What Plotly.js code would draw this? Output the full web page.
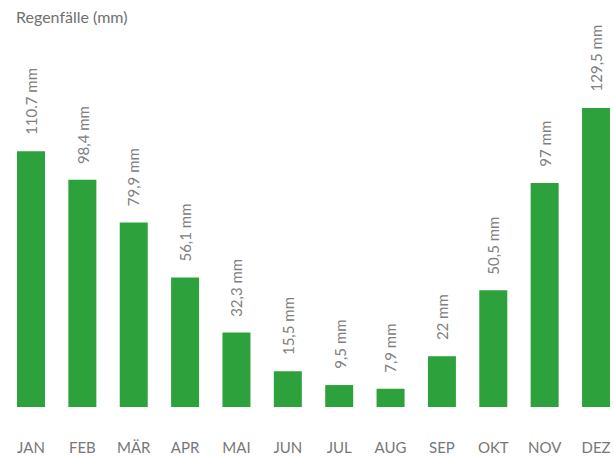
<!DOCTYPE html>
<html>
<head>
<meta charset="utf-8">
<script src="https://cdn.plot.ly/plotly-3.0.1.min.js"></script>
<style>html,body{margin:0;padding:0;background:#fff;}#chart{width:614px;height:457px;}</style>
</head>
<body>
<div id="chart"></div>
<script>
const months = ["JAN","FEB","MÄR","APR","MAI","JUN","JUL","AUG","SEP","OKT","NOV","DEZ"];
const rainfall = [110.7, 98.4, 79.9, 56.1, 32.3, 15.5, 9.5, 7.9, 22, 50.5, 97, 129.5];
const valueLabels = ["110.7 mm","98,4 mm","79,9 mm","56,1 mm","32,3 mm","15,5 mm","9,5 mm","7,9 mm","22 mm","50,5 mm","97 mm","129,5 mm"];

const FONT = "Lato, 'Open Sans', sans-serif";
const trace = {
  type: "bar",
  x: months,
  y: rainfall,
  width: 0.545,
  marker: {color: "#2ca13c"},
  hoverinfo: "x+y"
};

const annotations = months.map((m, i) => ({
  x: m, y: rainfall[i], xref: "x", yref: "y",
  text: valueLabels[i], textangle: -90,
  xanchor: "center", yanchor: "bottom", yshift: 14,
  showarrow: false,
  font: {family: FONT, size: 15, color: "#808080"}
}));

const layout = {
  width: 614, height: 457,
  margin: {l: 0, r: 0, t: 10, b: 50},
  paper_bgcolor: "#ffffff", plot_bgcolor: "#ffffff",
  showlegend: false,
  title: {
    text: "Regenfälle (mm)",
    xref: "container", yref: "container",
    x: 16/614, xanchor: "left",
    y: 1 - 17/457, yanchor: "middle",
    font: {family: FONT, size: 16, color: "#707070"}
  },
  xaxis: {
    type: "category",
    range: [-0.6036, 11.35],
    showgrid: false, zeroline: false, showline: false,
    ticks: "", ticklabelstandoff: 30,
    tickfont: {family: FONT, size: 15, color: "#777777"}
  },
  yaxis: {
    range: [0, 171.9],
    showgrid: false, zeroline: false, showline: false,
    showticklabels: false, ticks: ""
  },
  annotations: annotations
};

Plotly.newPlot("chart", [trace], layout, {displayModeBar: false, staticPlot: true});
</script>
</body>
</html>
